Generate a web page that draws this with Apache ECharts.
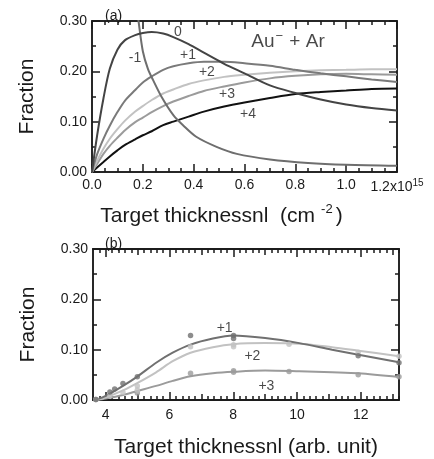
<!DOCTYPE html>
<html>
<head>
<meta charset="utf-8">
<script src="https://cdn.jsdelivr.net/npm/echarts@6/dist/echarts.min.js"></script>
<style>
html,body{margin:0;padding:0;background:#fff;}
#chart{width:434px;height:459px;}
</style>
</head>
<body>
<div id="chart"></div>
<script>
// ---------- Panel (a) data ----------
var xA = [0, 0.02, 0.045, 0.07, 0.1, 0.13, 0.17, 0.2, 0.235, 0.28, 0.32, 0.38, 0.44, 0.52, 0.6, 0.7, 0.8, 0.9, 1.0, 1.1, 1.2];
var yA0  = [0, 0.072, 0.146, 0.205, 0.243, 0.262, 0.272, 0.276, 0.278, 0.275, 0.268, 0.254, 0.237, 0.215, 0.196, 0.172, 0.157, 0.144, 0.134, 0.127, 0.122];
var yAp1 = [0, 0.035, 0.066, 0.092, 0.119, 0.142, 0.163, 0.178, 0.19, 0.203, 0.21, 0.216, 0.219, 0.219, 0.216, 0.211, 0.203, 0.196, 0.19, 0.184, 0.179];
var yAp2 = [0, 0.022, 0.046, 0.066, 0.085, 0.102, 0.12, 0.131, 0.143, 0.156, 0.164, 0.175, 0.182, 0.189, 0.193, 0.197, 0.2, 0.202, 0.203, 0.204, 0.204];
var yAp3 = [0, 0.016, 0.036, 0.052, 0.068, 0.083, 0.099, 0.108, 0.119, 0.131, 0.14, 0.151, 0.161, 0.17, 0.178, 0.186, 0.191, 0.194, 0.195, 0.194, 0.193];
var yAp4 = [0, 0.009, 0.02, 0.031, 0.043, 0.054, 0.065, 0.073, 0.081, 0.093, 0.1, 0.11, 0.12, 0.13, 0.138, 0.147, 0.155, 0.159, 0.162, 0.165, 0.166];
var xAm1 = [0.15, 0.183, 0.2, 0.22, 0.241, 0.274, 0.32, 0.36, 0.41, 0.49, 0.57, 0.7, 0.85, 1.0, 1.2];
var yAm1 = [0.42, 0.30, 0.24, 0.205, 0.182, 0.149, 0.113, 0.092, 0.07, 0.05, 0.036, 0.025, 0.018, 0.0145, 0.0125];
var labelsA = [[0.338, 0.278, '0'], [0.169, 0.226, '-1'], [0.378, 0.232, '+1'], [0.452, 0.199, '+2'], [0.531, 0.155, '+3'], [0.614, 0.115, '+4']];
var titleA = [[0.771, 0.258, '{n|Au}{sup|−}{n| + Ar}']];
var xMajorA = [0, 0.2, 0.4, 0.6, 0.8, 1.0, 1.2];
var xMinorA = [0.05, 0.1, 0.15, 0.25, 0.3, 0.35, 0.45, 0.5, 0.55, 0.65, 0.7, 0.75, 0.85, 0.9, 0.95, 1.05, 1.1, 1.15];
var xTicksA = ['0.0', '0.2', '0.4', '0.6', '0.8', '1.0', '1.2x10^15'];

// ---------- Panel (b) data ----------
var xB = [3.69, 4.0, 4.54, 5.0, 5.58, 6.1, 6.66, 7.36, 8.0, 9.0, 10.07, 11.1, 11.93, 13.2];
var yBp1 = [0, 0.008, 0.028, 0.047, 0.074, 0.094, 0.11, 0.122, 0.128, 0.123, 0.113, 0.1, 0.09, 0.075];
var yBp2 = [0, 0.005, 0.019, 0.034, 0.055, 0.077, 0.094, 0.105, 0.111, 0.113, 0.112, 0.105, 0.098, 0.087];
var yBp3 = [0, 0.003, 0.01, 0.018, 0.028, 0.038, 0.047, 0.053, 0.056, 0.0585, 0.057, 0.055, 0.053, 0.0455];
var ptsBp1 = [[3.69, 0.001], [4.13, 0.016], [4.28, 0.022], [4.54, 0.033], [4.99, 0.046], [6.66, 0.128], [8.01, 0.128], [8.01, 0.122], [11.92, 0.088], [13.2, 0.074]];
var ptsBp2 = [[3.69, 0.001], [4.13, 0.008], [4.54, 0.015], [4.99, 0.028], [4.99, 0.02], [6.66, 0.106], [8.01, 0.11], [8.01, 0.106], [9.75, 0.111], [11.92, 0.095], [13.2, 0.087]];
var ptsBp3 = [[3.69, 0.001], [4.99, 0.014], [6.66, 0.053], [8.01, 0.058], [8.01, 0.055], [9.75, 0.0565], [11.92, 0.05], [13.2, 0.046]];
var labelsB = [[7.73, 0.142, '+1'], [8.6, 0.087, '+2'], [9.04, 0.028, '+3']];
var xMajorB = [4, 6, 8, 10, 12];
var xMidB = [5, 7, 9, 11, 13];
var xMinorB = [3.8, 4.2, 4.4, 4.6, 4.8, 5.2, 5.4, 5.6, 5.8, 6.2, 6.4, 6.6, 6.8, 7.2, 7.4, 7.6, 7.8,
  8.2, 8.4, 8.6, 8.8, 9.2, 9.4, 9.6, 9.8, 10.2, 10.4, 10.6, 10.8, 11.2, 11.4, 11.6, 11.8, 12.2, 12.4, 12.6, 12.8, 13.0, 13.2];
xMinorB = xMinorB.filter(function (v) { return xMidB.indexOf(v) < 0; });

var yMajor = [0, 0.1, 0.2, 0.3];
var yMinor = [0.05, 0.15, 0.25];
var yTicks = ['0.00', '0.10', '0.20', '0.30'];

var FONT = 'Liberation Sans';
var BLACK = '#1a1a1a';

function pairs(xs, ys) { return xs.map(function (x, i) { return [x, ys[i]]; }); }

function lineSeries(xi, yi, data, color, w) {
  return { type: 'line', xAxisIndex: xi, yAxisIndex: yi, data: data, smooth: 0.3, showSymbol: false,
    lineStyle: { color: color, width: w || 2 }, silent: true, z: 3 };
}
function labelSeries(xi, yi, data, size, rich) {
  return { type: 'scatter', xAxisIndex: xi, yAxisIndex: yi, data: data, symbolSize: 1,
    itemStyle: { color: 'transparent' }, silent: true, z: 10,
    label: { show: true, position: 'inside', formatter: function (p) { return p.value[2]; },
      fontFamily: FONT, fontSize: size, color: BLACK, rich: rich || {} } };
}
function dotSeries(xi, yi, data, color) {
  return { type: 'scatter', xAxisIndex: xi, yAxisIndex: yi, data: data, symbolSize: 5.5,
    itemStyle: { color: color }, silent: true, z: 4 };
}

// one axis drawing a set of ticks (custom positions) on one side of a grid
function tickAxis(gi, pos, min, max, values, len, label) {
  var a = {
    type: 'value', gridIndex: gi, position: pos, min: min, max: max,
    axisLine: { show: true, onZero: false, lineStyle: { color: BLACK, width: 1.5 } },
    axisTick: { show: true, inside: true, length: len, customValues: values, lineStyle: { color: BLACK, width: 1.5 } },
    splitLine: { show: false },
    axisLabel: { show: false }
  };
  if (label) {
    a.axisLabel = Object.assign({ show: true, customValues: values, fontFamily: FONT, fontSize: 14, color: BLACK }, label);
  }
  return a;
}

var xAxes = [];
var yAxes = [];
// panel (a) x axes
xAxes.push(Object.assign(tickAxis(0, 'bottom', 0, 1.2, xMajorA, 8, {
  margin: 6,
  formatter: function (v) {
    var s = xTicksA[Math.round(v * 5)];
    if (s.indexOf('^') >= 0) { var p = s.split('^'); return '{n|' + p[0] + '}{sup|' + p[1] + '}'; }
    return s;
  },
  rich: { n: { fontFamily: FONT, fontSize: 14, color: BLACK, lineHeight: 18 },
          sup: { fontFamily: FONT, fontSize: 10, color: BLACK, lineHeight: 11, verticalAlign: 'top' } }
}), {
  name: '{n|Target thicknessnl  (cm}{sup|-2}{n|)}', nameLocation: 'middle', nameGap: 31,
  nameTextStyle: { fontFamily: FONT, fontSize: 21, color: BLACK, padding: [0, 46, 0, 0],
    rich: { n: { fontFamily: FONT, fontSize: 21, color: BLACK, lineHeight: 26 },
            sup: { fontFamily: FONT, fontSize: 13, color: BLACK, lineHeight: 16, verticalAlign: 'top', padding: [0, 3, 0, 6] } } }
}));
xAxes.push(tickAxis(0, 'bottom', 0, 1.2, xMinorA, 4));
xAxes.push(tickAxis(0, 'top', 0, 1.2, xMajorA, 8));
xAxes.push(tickAxis(0, 'top', 0, 1.2, xMinorA, 4));
// panel (b) x axes
xAxes.push(Object.assign(tickAxis(1, 'bottom', 3.6, 13.2, xMajorB, 8, { margin: 8 }), {
  name: 'Target thicknessnl (arb. unit)', nameLocation: 'middle', nameGap: 37,
  nameTextStyle: { fontFamily: FONT, fontSize: 21, color: BLACK }
}));
xAxes.push(tickAxis(1, 'bottom', 3.6, 13.2, xMidB, 6));
xAxes.push(tickAxis(1, 'bottom', 3.6, 13.2, xMinorB, 4));
xAxes.push(tickAxis(1, 'top', 3.6, 13.2, xMajorB, 8));
xAxes.push(tickAxis(1, 'top', 3.6, 13.2, xMidB, 6));
xAxes.push(tickAxis(1, 'top', 3.6, 13.2, xMinorB, 4));

function yLabel() {
  return { margin: 5, formatter: function (v) { return yTicks[Math.round(v * 10)]; } };
}
var yName = { name: 'Fraction', nameLocation: 'middle', nameGap: 54,
  nameTextStyle: { fontFamily: FONT, fontSize: 21, color: BLACK } };
[0, 1].forEach(function (gi) {
  yAxes.push(Object.assign(tickAxis(gi, 'left', 0, 0.3, yMajor, 8, yLabel()), yName));
  yAxes.push(tickAxis(gi, 'left', 0, 0.3, yMinor, 4));
  yAxes.push(tickAxis(gi, 'right', 0, 0.3, yMajor, 8));
  yAxes.push(tickAxis(gi, 'right', 0, 0.3, yMinor, 4));
});
// index of main axes
var XA = 0, YA = 0, XB = 4, YB = 4;

var option = {
  animation: false,
  backgroundColor: '#fff',
  textStyle: { fontFamily: FONT },
  title: [
    { text: '(a)', left: 100, top: 4, textStyle: { fontFamily: FONT, fontSize: 14, fontWeight: 'normal', color: BLACK } },
    { text: '(b)', left: 100, top: 232, textStyle: { fontFamily: FONT, fontSize: 14, fontWeight: 'normal', color: BLACK } }
  ],
  grid: [
    { left: 92, top: 21, width: 305, height: 151, containLabel: false },
    { left: 93, top: 249, width: 306, height: 152, containLabel: false }
  ],
  xAxis: xAxes,
  yAxis: yAxes,
  series: [
    lineSeries(XA, YA, pairs(xA, yAp4), '#111111'),
    lineSeries(XA, YA, pairs(xA, yAp3), '#9b9b9b'),
    lineSeries(XA, YA, pairs(xA, yAp2), '#c2c2c2'),
    lineSeries(XA, YA, pairs(xA, yAp1), '#7a7a7a'),
    lineSeries(XA, YA, pairs(xAm1, yAm1), '#6e6e6e'),
    lineSeries(XA, YA, pairs(xA, yA0), '#444444'),
    labelSeries(XA, YA, labelsA, 14),
    labelSeries(XA, YA, titleA, 19, {
      n: { fontFamily: FONT, fontSize: 19, color: BLACK, lineHeight: 24 },
      sup: { fontFamily: FONT, fontSize: 13, color: BLACK, lineHeight: 12, verticalAlign: 'top', padding: [0, 1, 0, 1] } }),
    lineSeries(XB, YB, pairs(xB, yBp3), '#9b9b9b'),
    lineSeries(XB, YB, pairs(xB, yBp2), '#c2c2c2'),
    lineSeries(XB, YB, pairs(xB, yBp1), '#707070'),
    dotSeries(XB, YB, ptsBp3, '#9b9b9b'),
    dotSeries(XB, YB, ptsBp2, '#c2c2c2'),
    dotSeries(XB, YB, ptsBp1, '#707070'),
    labelSeries(XB, YB, labelsB, 14)
  ]
};

var chart = echarts.init(document.getElementById('chart'), null, { renderer: 'canvas' });
chart.setOption(option);
</script>
</body>
</html>
